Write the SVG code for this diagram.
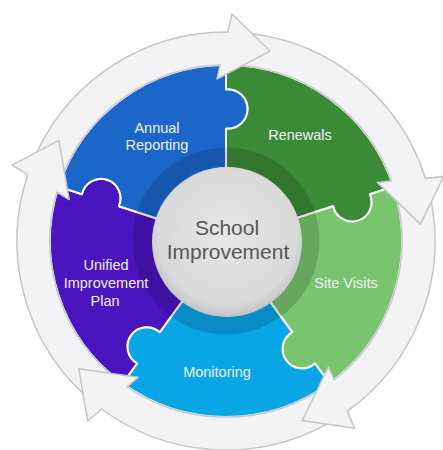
<svg xmlns="http://www.w3.org/2000/svg" width="443" height="450" viewBox="0 0 443 450">
<defs>
<style>
.piece{stroke:#ffffff;stroke-width:2;stroke-linejoin:round}
.lbl{font-family:"Liberation Sans",Arial,sans-serif;font-size:14.5px;fill:#eef2fa;text-anchor:middle}
.ctr{font-family:"Liberation Sans",Arial,sans-serif;font-size:21px;fill:#575757;text-anchor:middle}
.afill{fill:#f3f3f5;stroke:none}
.aline{fill:none;stroke:#c6c6c9;stroke-width:1.5;stroke-linejoin:round}
</style>
<radialGradient id="cg" cx="0.5" cy="0.45" r="0.55">
<stop offset="0" stop-color="#e7e7e7"/>
<stop offset="0.85" stop-color="#d9d9d9"/>
<stop offset="1" stop-color="#c2c2c2"/>
</radialGradient>
<path id="af" d="M71.48,-196.4 A209,209 0 0 1 209,1.85 L227,6 L190,44 L162,-9 L176,-5.8 A176,176 0 0 0 60.19,-165.39 Z"/>
<path id="al" d="M69.47,-161.71 A176,176 0 0 1 176,-5.8 L162,-9 L190,44 L227,6 L209,1.85 A209,209 0 0 0 88.99,-189.1"/>
</defs>
<rect width="443" height="450" fill="#ffffff"/>

<g transform="translate(226,241)">
<g id="n-renewals">
<path class="piece" fill="#3b8a35" d="M0,0 L0,-112.6 A19.5,19.5 0 1 0 0,-151.4 L0,-176 A176,176 0 0 1 167.39,-54.39 L143.99,-46.79 A19.5,19.5 0 1 1 107.09,-34.80 Z"/>
</g>
<g id="n-sitevisits">
<path class="piece" fill="#79c46e" d="M0,0 L107.09,-34.80 A19.5,19.5 0 1 0 143.99,-46.79 L167.39,-54.39 A176,176 0 0 1 103.45,142.39 L88.99,122.49 A19.5,19.5 0 1 1 66.18,91.10 Z"/>
</g>
<g id="n-monitoring">
<path class="piece" fill="#0aa5e5" d="M0,0 L66.18,91.10 A19.5,19.5 0 1 0 88.99,122.49 L103.45,142.39 A176,176 0 0 1 -103.45,142.39 L-88.99,122.49 A19.5,19.5 0 1 1 -66.18,91.10 Z"/>
</g>
<g id="n-uip">
<path class="piece" fill="#4a14bf" d="M0,0 L-66.18,91.10 A19.5,19.5 0 1 0 -88.99,122.49 L-103.45,142.39 A176,176 0 0 1 -167.39,-54.39 L-143.99,-46.79 A19.5,19.5 0 1 1 -107.09,-34.80 Z"/>
</g>
<g id="n-annual">
<path class="piece" fill="#1b66c9" d="M0,0 L-107.09,-34.80 A19.5,19.5 0 1 0 -143.99,-46.79 L-167.39,-54.39 A176,176 0 0 1 0,-176 L0,-151.4 A19.5,19.5 0 1 1 0,-112.6 Z"/>
</g>
<g id="n-center">
<circle r="84" fill="none" stroke="#000000" stroke-opacity="0.15" stroke-width="19"/>
<circle cx="1" cy="1" r="75" fill="url(#cg)"/>
</g>
</g>

<g id="labels">
<text class="lbl" x="157" y="133">Annual</text>
<text class="lbl" x="157" y="150">Reporting</text>
<text class="lbl" x="300" y="140">Renewals</text>
<text class="lbl" x="346" y="288">Site Visits</text>
<text class="lbl" x="217" y="377">Monitoring</text>
<text class="lbl" x="106" y="270">Unified</text>
<text class="lbl" x="106" y="288">Improvement</text>
<text class="lbl" x="105" y="306">Plan</text>
<text class="ctr" x="227" y="235">School</text>
<text class="ctr" x="228" y="259">Improvement</text>
</g>

<g id="connectors" transform="translate(226,241)">
<use href="#af" class="afill" transform="rotate(270)"/>
<use href="#af" class="afill" transform="rotate(342)"/>
<use href="#af" class="afill" transform="rotate(54)"/>
<use href="#af" class="afill" transform="rotate(126)"/>
<use href="#af" class="afill" transform="rotate(198)"/>
<use href="#al" class="aline" transform="rotate(270)"/>
<use href="#al" class="aline" transform="rotate(342)"/>
<use href="#al" class="aline" transform="rotate(54)"/>
<use href="#al" class="aline" transform="rotate(126)"/>
<use href="#al" class="aline" transform="rotate(198)"/>
</g>
</svg>
